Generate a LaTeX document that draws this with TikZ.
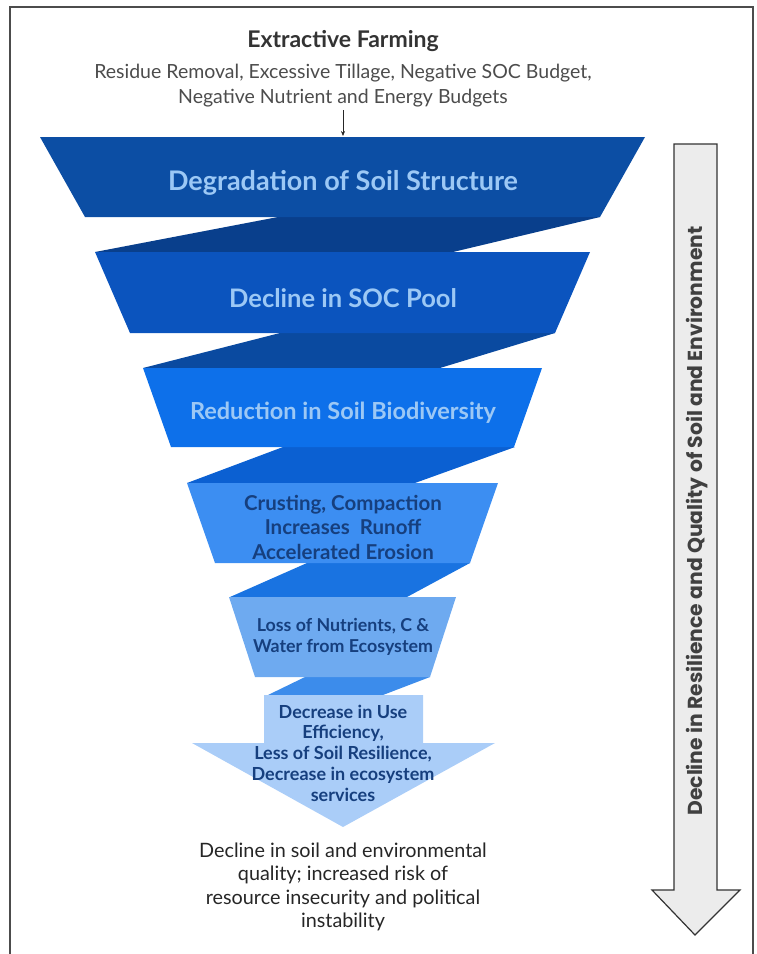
\documentclass[tikz,border=0pt]{standalone}
\usepackage{fontspec}
\setmainfont{Lato}
\newfontfamily\sidefont{Poppins}
\usetikzlibrary{positioning, arrows.meta}

\definecolor{tone1}{HTML}{0C4EA4}
\definecolor{tone2}{HTML}{0B54BE}
\definecolor{tone3}{HTML}{0D70EA}
\definecolor{tone4}{HTML}{3C8EF2}
\definecolor{tone5}{HTML}{6EAAF0}
\definecolor{tone6}{HTML}{AACDF8}
\definecolor{fold1}{HTML}{093F8C}
\definecolor{fold2}{HTML}{0A4AA0}
\definecolor{fold3}{HTML}{0B60D2}
\definecolor{fold4}{HTML}{1973E1}
\definecolor{fold5}{HTML}{3C8CEB}
\definecolor{lightlabel}{HTML}{9CC8F5}
\definecolor{darklabel}{HTML}{163F7E}

\begin{document}
\begin{tikzpicture}[x=1pt, y=-1pt,
	headtext/.style={font=\fontsize{23}{26}\selectfont\bfseries, text=black!80},
	causetext/.style={font=\fontsize{19.5}{25}\selectfont, text=black!70, align=center},
	lighttext/.style={text=lightlabel, align=center},
	darktext/.style={text=darklabel, align=center},
	outtext/.style={font=\fontsize{19.8}{23.3}\selectfont, text=black!85, align=center},
	sidearrow/.style={fill=gray!15, draw=black!80, line width=1.2pt},
	sidetext/.style={font=\sidefont\fontsize{20.3}{22}\selectfont\bfseries, text=black!75},
	>={Stealth[length=5pt, width=4pt]}
]

\useasboundingbox (0,0) rectangle (756,954);
\draw[black!70, line width=1.2pt] (10,954) -- (10,7) -- (753,7) -- (753,954);

\foreach \a/\b/\c/\d/\ya/\yb/\col in {278/600/453/95/217/252/fold1, 280/555/440/143/333/368/fold2, 283/515/415/187/447/483/fold3, 307/470/407/230/563/597/fold4, 305/430/383/268/677/695/fold5}
	\fill[\col] (\a,\ya) -- (\b,\ya) -- (\c,\yb) -- (\d,\yb) -- cycle;

\foreach \xl/\xr/\ya/\yb/\dx/\col in {40/645/137/217/45/tone1, 95/590/252/333/35/tone2, 143/542/368/447/28/tone3, 187/498/483/563/28/tone4, 229/456/597/677/26/tone5}
	\fill[\col] (\xl,\ya) -- (\xr,\ya) -- (\xr-\dx,\yb) -- (\xl+\dx,\yb) -- cycle;

\fill[tone6] (264,695) -- (423,695) -- (423,743) -- (495,743) -- (343,827) -- (192,743) -- (264,743) -- cycle;

\node[headtext] (farming) at (343,41) {Extractive Farming};
\node[causetext, below=5pt of farming] (causes) {Residue Removal, Excessive Tillage, Negative SOC Budget,\\Negative Nutrient and Energy Budgets};
\coordinate (entry) at (343,136);

\node[lighttext, font=\fontsize{27}{30}\selectfont\bfseries] (structure) at (343,183) {Degradation of Soil Structure};
\node[lighttext, font=\fontsize{25.5}{29}\selectfont\bfseries] (soc) at (343,298) {Decline in SOC Pool};
\node[lighttext, font=\fontsize{23.5}{27}\selectfont\bfseries] (biodiv) at (343,413) {Reduction in Soil Biodiversity};
\node[darktext, font=\fontsize{20.5}{24.5}\selectfont\bfseries] (crust) at (343,527) {Crusting, Compaction\\Increases~~Runoff\\Accelerated Erosion};
\node[darktext, font=\fontsize{17.8}{21}\selectfont\bfseries] (loss) at (343,637) {Loss of Nutrients, C \&\\Water from Ecosystem};
\node[darktext, font=\fontsize{18}{20.7}\selectfont\bfseries] (services) at (343,753) {Decrease in Use\\Efficiency,\\Less of Soil Resilience,\\Decrease in ecosystem\\services};
\node[outtext] (outcome) at (343,887) {Decline in soil and environmental\\quality; increased risk of\\resource insecurity and political\\instability};

\draw[sidearrow] (674,144) -- (717,144) -- (717,890) -- (740,890) -- (695,935) -- (652,890) -- (674,890) -- cycle;
\node[sidetext, rotate=90] (decline) at (697,521) {Decline in Resilience and Quality of Soil and Environment};

\draw[->, black!85, line width=0.6pt] (causes) -- (entry);

\end{tikzpicture}
\end{document}
